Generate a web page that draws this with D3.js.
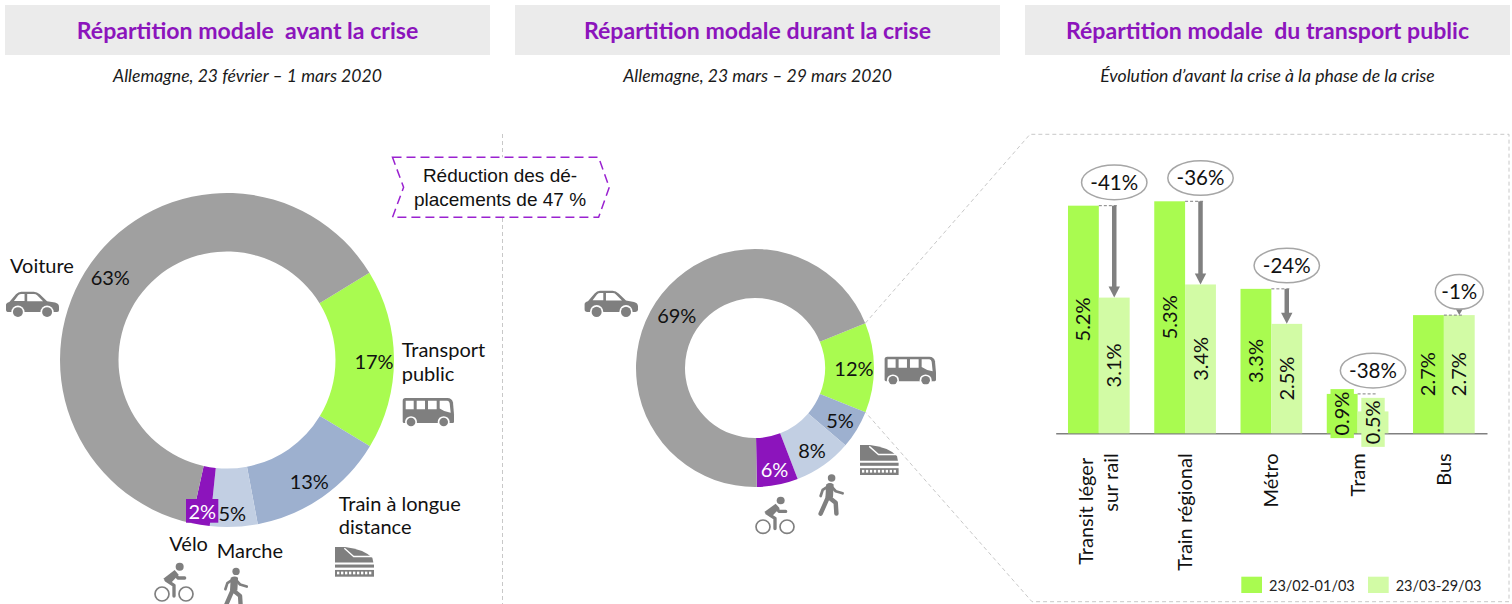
<!DOCTYPE html>
<html>
<head>
<meta charset="utf-8">
<script src="https://cdn.jsdelivr.net/npm/d3@7"></script>
<style>
  html, body { margin: 0; padding: 0; background: #fff; }
  svg { display: block; }
  text { font-family: Lato, "Noto Sans", sans-serif; fill: #1a1a1a; }
</style>
</head>
<body>
<script>
// Donut data (share of trips, %)
var modes = ["Transport public", "Train à longue distance", "Marche", "Vélo", "Voiture"]
var avantValues = [17.4, 13.4, 4.6, 1.8, 62.8]
var duranteValues = [12.2, 5.2, 7.9, 5.6, 69.1]

// Public transport bars
var categories = ["Transit léger|sur rail", "Train régional", "Métro", "Tram", "Bus"]
var beforeValues = [5.2, 5.3, 3.3, 0.9, 2.7]
var afterValues = [3.1, 3.4, 2.5, 0.5, 2.7]
var changes = [-41, -36, -24, -38, -1]
var periods = ["23/02-01/03", "23/03-29/03"]

var titles = ["Répartition modale  avant la crise", "Répartition modale durant la crise", "Répartition modale  du transport public"]
var subtitles = ["Allemagne, 23 février – 1 mars 2020", "Allemagne, 23 mars – 29 mars 2020", "Évolution d’avant la crise à la phase de la crise"]

var ICON = "#7f7f7f", PURPLE = "#8c14bc", GREEN = "#a9fb50", LIGHT = "#d2fba5"
var modeColors = ["#a9fb50", "#9db0cf", "#c2cfe3", "#8c14bc", "#a0a0a0"]

var svg = d3.select("body").append("svg").attr("width", 1512).attr("height", 604)

// headers
var headerX = [5, 515, 1025]
titles.forEach(function(t, i) {
  svg.append("rect").attr("x", headerX[i]).attr("y", 5).attr("width", 485).attr("height", 50).attr("fill", "#ebebeb")
  svg.append("text").attr("x", headerX[i] + 242.5).attr("y", 38.5).attr("text-anchor", "middle")
    .style("font-size", "23.1px").style("font-weight", 700).style("fill", PURPLE)
    .attr("xml:space", "preserve").text(t)
  svg.append("text").attr("x", headerX[i] + 242.5).attr("y", 82).attr("text-anchor", "middle")
    .style("font-size", "17.6px").style("font-style", "italic").text(subtitles[i])
})

// vertical separator
svg.append("line").attr("x1", 502.5).attr("x2", 502.5).attr("y1", 134).attr("y2", 604)
  .attr("stroke", "#c8c8c8").attr("stroke-dasharray", "4 3")

// callout
svg.append("polygon")
  .attr("points", "392.5,157.3 598.6,157.3 609.3,187.3 598.6,217.3 392.5,217.3 403.6,187.3")
  .attr("fill", "#fff").attr("stroke", "#9a22d0").attr("stroke-width", 1.5).attr("stroke-dasharray", "9 5")
var calloutLines = ["Réduction des dé-", "placements de 47 %"]
calloutLines.forEach(function(t, i) {
  svg.append("text").attr("x", 500).attr("y", 182 + i * 24).attr("text-anchor", "middle")
    .style("font-family", "'Liberation Sans'").style("font-size", "19px").style("fill", "#111").text(t)
})

// donuts
function donut(values, cx, cy, R, r, startDeg) {
  var start = startDeg * Math.PI / 180
  var arcs = d3.pie().sort(null).startAngle(start).endAngle(start + 2 * Math.PI)(values)
  var arc = d3.arc().innerRadius(r).outerRadius(R)
  svg.append("g").attr("transform", "translate(" + cx + "," + cy + ")")
    .selectAll("path").data(arcs).enter().append("path")
    .attr("d", arc)
    .attr("fill", function(d, i) { return modeColors[i] })
  return arcs
}

var avantArcs = donut(avantValues, 227, 360, 167, 108.5, 58.5)
// the purple label box for 2% sits on top of the ring
svg.append("rect").attr("x", 186).attr("y", 499).attr("width", 32.3).attr("height", 23.7).attr("fill", PURPLE)
var duranteR = 119
var duranteArcs = donut(duranteValues, 755, 368, duranteR, 70, 67.9)

var labelsAvant = [[374, 361.7], [309.3, 481.7], [232.3, 514.3], [202.3, 511.7], [110.3, 277.7]]
var labelsDurant = [[853.9, 369], [840, 420.7], [812, 450.7], [774.6, 470], [676.8, 315.7]]
function donutLabels(values, pos) {
  svg.append("g").selectAll("text").data(values).enter().append("text")
    .attr("x", function(d, i) { return pos[i][0] })
    .attr("y", function(d, i) { return pos[i][1] + 7 })
    .attr("text-anchor", "middle")
    .style("font-size", "20px")
    .style("fill", function(d, i) { return i == 3 ? "#fff" : "#111" })
    .text(function(v) { return Math.round(v) + "%" })
}
donutLabels(avantValues, labelsAvant)
donutLabels(duranteValues, labelsDurant)

var modeNames = [
  ["Voiture", 10, 272.7], ["Transport", 401.7, 356.7], ["public", 401.7, 380.7],
  ["Train à longue", 338.7, 510.7], ["distance", 338.7, 534], ["Vélo", 169.3, 550.7], ["Marche", 216.7, 557.7]
]
modeNames.forEach(function(n) {
  svg.append("text").attr("x", n[1]).attr("y", n[2]).style("font-size", "20px").style("fill", "#111").text(n[0])
})

// icons, each drawn in its own box and scaled to fit
function icon(draw, x, y, w, h, bw, bh) {
  var g = svg.append("g").attr("transform", "translate(" + x + "," + y + ") scale(" + (w / bw) + "," + (h / bh) + ")")
  draw(g)
}
function wheel(g, x, y, r) {
  g.append("circle").attr("cx", x).attr("cy", y).attr("r", r + 5).attr("fill", "#fff")
  g.append("circle").attr("cx", x).attr("cy", y).attr("r", r).attr("fill", ICON)
}
function car(g) {
  g.append("path").attr("fill", ICON).attr("d", "M0 54 V40 Q0 34 10 31 L30 8 Q37 0 46 0 H84 Q94 0 102 8 L124 29 L148 33 Q160 36 160 46 V56 Q160 62 152 62 H8 Q0 62 0 54Z")
  g.append("path").attr("fill", "#fff").attr("d", "M24 28 L37 11 Q41 7 47 7 H56 V28Z M64 7 H84 Q90 7 94 11 L112 29 H64Z")
  wheel(g, 36, 62, 15); wheel(g, 124, 62, 15)
}
function bus(g) {
  g.append("path").attr("fill", ICON).attr("d", "M8 0 H134 Q148 0 151 14 L154 50 V72 Q154 76 150 76 H4 Q0 76 0 72 V8 Q0 0 8 0Z")
  g.append("path").attr("fill", "#fff").attr("d", "M9 8 H33 V34 H9Z M42 8 H67 V34 H42Z M76 8 H102 V34 H76Z M111 8 H134 Q140 8 141 16 L144 45 Q124 42 111 32Z")
  wheel(g, 25, 73, 13); wheel(g, 123, 73, 13)
}
function train(g) {
  g.append("path").attr("fill", ICON).attr("d", "M0 0 H30 Q85 6 112 32 L115 46 H0Z")
  g.append("path").attr("fill", "none").attr("stroke", "#fff").attr("stroke-width", 4).attr("d", "M28 4 L56 28 H112")
  g.append("rect").attr("y", 52).attr("width", 117).attr("height", 9).attr("fill", ICON)
  g.append("rect").attr("y", 68).attr("width", 117).attr("height", 20).attr("fill", ICON)
  d3.range(6, 112, 12).forEach(function(x) {
    g.append("rect").attr("x", x).attr("y", 73).attr("width", 7).attr("height", 8).attr("fill", "#fff")
  })
}
function bike(g) {
  g.append("circle").attr("cx", 24).attr("cy", 94).attr("r", 21).attr("fill", "none").attr("stroke", ICON).attr("stroke-width", 5)
  g.append("circle").attr("cx", 96).attr("cy", 94).attr("r", 21).attr("fill", "none").attr("stroke", ICON).attr("stroke-width", 5)
  g.append("circle").attr("cx", 77).attr("cy", 12).attr("r", 12).attr("fill", ICON)
  g.append("path").attr("fill", "none").attr("stroke", ICON).attr("stroke-width", 10).attr("stroke-linejoin", "round").attr("stroke-linecap", "round")
    .attr("d", "M60 100 V68 L36 52 L62 32 L72 46 H92")
  g.append("path").attr("fill", ICON).attr("d", "M28 48 L62 22 L74 36 L48 64Z")
}
function walker(g) {
  g.append("circle").attr("cx", 40).attr("cy", 11).attr("r", 11).attr("fill", ICON)
  g.append("path").attr("fill", "none").attr("stroke", ICON).attr("stroke-width", 13).attr("stroke-linejoin", "round").attr("stroke-linecap", "round")
    .attr("d", "M34 34 L30 66 L8 116 M30 66 L52 84 L54 116")
  g.append("path").attr("fill", "none").attr("stroke", ICON).attr("stroke-width", 8).attr("stroke-linejoin", "round").attr("stroke-linecap", "round")
    .attr("d", "M36 32 L52 50 L72 56 M32 34 L14 46 L8 64")
  g.append("path").attr("fill", ICON).attr("d", "M24 30 Q36 22 46 30 L44 68 L22 68Z")
}
icon(car, 6, 291.7, 53, 26, 160, 79)
icon(bus, 402.7, 398, 51.3, 29, 154, 88)
icon(train, 335, 547, 39, 29.7, 117, 88)
icon(bike, 154, 562.7, 40, 40, 120, 120)
icon(walker, 222.7, 567.7, 25.7, 41, 77, 122)
icon(car, 584.6, 290.7, 53.4, 27, 160, 79)
icon(bus, 884.6, 356.7, 51.4, 28.3, 154, 88)
icon(train, 860, 445, 38.6, 30, 117, 88)
icon(walker, 817.9, 474.3, 26.4, 41.4, 77, 122)
icon(bike, 755, 496.7, 40, 38.3, 120, 120)

// panel outline, starts from the ends of the green slice on the second donut
var gs = duranteArcs[0]
var px = function(a) { return 755 + duranteR * Math.sin(a) }
var py = function(a) { return 368 - duranteR * Math.cos(a) }
svg.append("path").attr("fill", "none").attr("stroke", "#c8c8c8").attr("stroke-dasharray", "4 3")
  .attr("d", d3.line()([[px(gs.startAngle), py(gs.startAngle)], [1030, 134.3], [1509, 134.3], [1509, 601.7], [1032, 601.7], [px(gs.endAngle), py(gs.endAngle)]]))

// bars
var x = d3.scaleBand().domain(categories).range([1055.7, 1487]).paddingInner(0.285).paddingOuter(0.1425)
var x1 = d3.scaleBand().domain([0, 1]).range([0, x.bandwidth()])
var y = d3.scaleLinear().domain([0, 5.3]).range([433.3, 201.3])
var fmt = d3.format(".1f")

var axis = svg.append("g").attr("transform", "translate(0,433.3)")
  .call(d3.axisBottom(x).tickSize(0).tickSizeOuter(0).tickFormat(""))
axis.select(".domain").attr("stroke", "#808080").attr("stroke-width", 1.5)
axis.selectAll(".tick").each(function(c) {
  var lines = c.split("|")
  lines.forEach(function(t, i) {
    d3.select(this).append("text")
      .attr("transform", "translate(" + ((i - (lines.length - 1) / 2) * 25) + "," + (lines.length > 1 && i == 0 ? 24.5 : 20) + ") rotate(-90)")
      .attr("dy", "0.35em").attr("text-anchor", "end")
      .style("font-size", "20px").style("fill", "#111").text(t)
  }, this)
})

var series = [beforeValues, afterValues]
var seriesColors = [GREEN, LIGHT]
series.forEach(function(vals, s) {
  var g = svg.append("g")
  g.selectAll("rect").data(vals).enter().append("rect")
    .attr("x", function(d, i) { return x(categories[i]) + x1(s) })
    .attr("y", function(d) { return y(d) })
    .attr("width", x1.bandwidth())
    .attr("height", function(d) { return y(0) - y(d) })
    .attr("fill", seriesColors[s])
  vals.forEach(function(v, i) {
    var cx = x(categories[i]) + x1(s) + x1.bandwidth() / 2
    var cy = (y(v) + y(0)) / 2
    // short bars get a label box in the bar colour
    if (y(0) - y(v) < 50) {
      g.append("rect").attr("x", cx - 11.7).attr("y", cy - 24.5).attr("width", 23.4).attr("height", 49).attr("fill", seriesColors[s])
    }
    g.append("text").attr("transform", "translate(" + cx + "," + cy + ") rotate(-90)")
      .attr("text-anchor", "middle").attr("dy", "0.35em")
      .style("font-size", "20px").style("fill", "#111").text(fmt(v) + "%")
  })
})

// arrows and change bubbles
changes.forEach(function(c, i) {
  var left = x(categories[i]) + x1(1)
  var cx = left + x1.bandwidth() / 2
  var top = y(beforeValues[i]), end = y(afterValues[i])
  svg.append("line").attr("x1", left).attr("x2", left + 20).attr("y1", top).attr("y2", top)
    .attr("stroke", "#808080").attr("stroke-dasharray", "3 2")
  if (end - top > 20) {
    svg.append("line").attr("x1", cx).attr("x2", cx).attr("y1", top).attr("y2", end - 8)
      .attr("stroke", "#808080").attr("stroke-width", 4.5)
    svg.append("path").attr("fill", "#808080").attr("d", d3.line()([[cx - 5.7, end - 11], [cx + 5.7, end - 11], [cx, end]]))
  } else if (end - top < 2) {
    svg.append("path").attr("fill", "#808080").attr("d", d3.line()([[cx - 3.5, top - 6], [cx + 3.5, top - 6], [cx, top]]))
  }
  var cy = top - 23.3
  var rx = c == -1 ? 24 : 32.7
  svg.append("ellipse").attr("cx", cx).attr("cy", cy).attr("rx", rx).attr("ry", 17.3)
    .attr("fill", "#fff").attr("stroke", "#a6a6a6").attr("stroke-width", 1.5)
  svg.append("text").attr("x", cx).attr("y", cy).attr("dy", "0.35em").attr("text-anchor", "middle")
    .style("font-size", "20.5px").style("fill", "#111").text(c + "%")
})

// legend
var legendX = [1241.3, 1368]
periods.forEach(function(p, i) {
  svg.append("rect").attr("x", legendX[i]).attr("y", 576.7).attr("width", 20.7).attr("height", 16.3).attr("fill", seriesColors[i])
  svg.append("text").attr("x", legendX[i] + 27.7).attr("y", 591).style("font-size", "14.5px").style("fill", "#222").text(p)
})
</script>
</body>
</html>
